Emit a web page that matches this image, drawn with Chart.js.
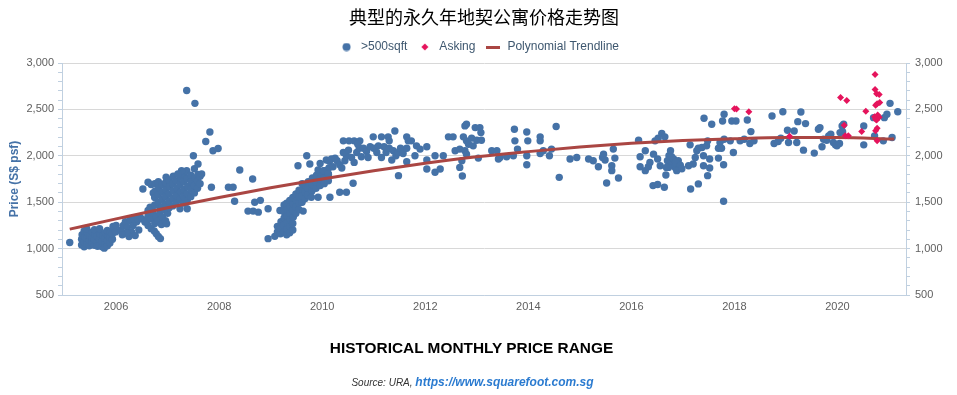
<!DOCTYPE html>
<html>
<head>
<meta charset="utf-8">
<script src="https://cdn.jsdelivr.net/npm/chart.js@4"></script>
<style>
  body { margin: 0; background: #fff; }
  #wrap { position: relative; width: 957px; height: 395px; }
  #chartTitle { position: absolute; left: 0; top: 4px; width: 968px; text-align: center;
    font: 18px "Noto Sans CJK SC", sans-serif; line-height: 24px; color: #000; }
  #xTitle { position: absolute; left: 0; top: 338px; width: 943px; text-align: center;
    font: bold 15.4px "Liberation Sans", Arial, sans-serif; line-height: 20px; color: #000; }
  #source { position: absolute; left: 0; top: 373px; width: 945px; text-align: center;
    line-height: 16px; font-family: "Liberation Sans", Arial, sans-serif; }
  #source .lbl { font-style: italic; font-size: 10px; color: #333; }
  #source .url { font-style: italic; font-weight: bold; font-size: 12px; color: #2B7BD0; }
</style>
</head>
<body>
<div id="wrap">
  <canvas id="chart" width="957" height="395"></canvas>
  <div id="chartTitle">典型的永久年地契公寓价格走势图</div>
  <div id="xTitle">HISTORICAL MONTHLY PRICE RANGE</div>
  <div id="source"><span class="lbl">Source: URA, </span><span class="url">https://www.squarefoot.com.sg</span></div>
</div>
<script>
// transactions >500sqft : [year, price psf]
var sqftPoints = [
  [2005.10,1065],
  [2005.33,1040],[2005.33,1100],[2005.34,1150],
  [2005.38,1020],[2005.38,1070],[2005.39,1130],[2005.38,1190],
  [2005.43,1050],[2005.43,1110],[2005.44,1170],[2005.43,1215],
  [2005.48,1030],[2005.48,1090],[2005.49,1140],
  [2005.53,1060],[2005.53,1120],[2005.54,1180],
  [2005.58,1035],[2005.58,1095],[2005.59,1150],[2005.58,1205],
  [2005.63,1070],[2005.63,1130],[2005.64,1025],
  [2005.68,1040],[2005.68,1100],[2005.69,1160],[2005.68,1215],
  [2005.73,1020],[2005.73,1080],[2005.74,1140],
  [2005.78,1050],[2005.78,1110],[2005.79,1170],[2005.77,1005],
  [2005.83,1030],[2005.83,1090],[2005.84,1150],[2005.83,1195],
  [2005.88,1060],[2005.88,1120],[2005.89,1180],
  [2005.93,1100],[2005.93,1160],[2005.94,1240],
  [2005.99,1180],[2006.00,1250],
  [2006.10,1197],[2006.14,1250],[2006.18,1290],[2006.22,1230],[2006.27,1304],[2006.30,1180],
  [2006.33,1250],[2006.37,1140],[2006.40,1290],[2006.44,1200],[2006.46,1340],[2006.25,1130],
  [2006.35,1320],[2006.42,1320],[2006.20,1165],[2006.12,1150],
  [2006.50,1320],[2006.56,1286],[2006.62,1250],[2006.68,1215],[2006.74,1190],[2006.78,1161],
  [2006.82,1130],[2006.86,1108],
  [2006.60,1300],[2006.62,1350],[2006.68,1320],[2006.72,1380],[2006.75,1270],[2006.78,1340],
  [2006.82,1300],[2006.85,1380],[2006.88,1260],[2006.90,1340],[2006.93,1420],[2006.96,1300],
  [2006.98,1268],[2007.00,1380],[2007.03,1440],[2006.62,1411],[2006.66,1447],[2006.70,1430],
  [2006.85,1447],
  [2006.52,1643],[2006.62,1715],[2006.68,1690],[2006.72,1600],[2006.75,1560],
  [2006.75,1470],[2006.75,1550],[2006.76,1620],[2006.75,1700],
  [2006.82,1500],[2006.82,1580],[2006.83,1660],[2006.82,1720],
  [2006.89,1450],[2006.89,1530],[2006.90,1610],[2006.89,1690],
  [2006.96,1480],[2006.96,1560],[2006.97,1640],[2006.96,1710],[2006.97,1770],
  [2007.03,1510],[2007.03,1590],[2007.04,1670],[2007.03,1740],
  [2007.10,1460],[2007.10,1540],[2007.11,1620],[2007.10,1700],[2007.11,1780],
  [2007.17,1500],[2007.17,1570],[2007.18,1650],[2007.17,1730],
  [2007.24,1430],[2007.24,1530],[2007.25,1610],[2007.24,1690],[2007.25,1770],
  [2007.31,1490],[2007.31,1560],[2007.32,1640],[2007.31,1720],[2007.32,1800],
  [2007.38,1430],[2007.38,1520],[2007.38,1590],[2007.39,1670],[2007.38,1750],[2007.37,1840],
  [2007.45,1560],[2007.45,1640],[2007.46,1720],[2007.45,1790],
  [2007.52,1600],[2007.52,1680],[2007.53,1760],[2007.52,1860],
  [2007.58,1650],[2007.58,1730],[2007.59,1800],
  [2007.63,1700],[2007.63,1780],[2007.27,1840],[2007.20,1804],
  [2007.37,2704],[2007.53,2565],[2007.74,2154],[2007.82,2257],[2007.88,2054],[2007.98,2079],
  [2007.85,1661],[2008.18,1661],[2008.27,1661],[2008.30,1511],[2008.40,1847],[2007.66,1804],
  [2007.59,1911],[2007.50,2000],
  [2008.56,1404],[2008.66,1404],[2008.76,1393],[2008.69,1500],[2008.80,1520],[2008.65,1750],
  [2008.95,1429],[2008.95,1107],[2009.08,1132],
  [2009.13,1180],[2009.13,1240],
  [2009.19,1160],[2009.19,1220],[2009.20,1290],[2009.18,1411],
  [2009.25,1180],[2009.25,1250],[2009.26,1330],[2009.25,1400],[2009.26,1470],
  [2009.31,1150],[2009.31,1210],[2009.32,1280],[2009.31,1350],[2009.32,1420],[2009.31,1490],
  [2009.37,1170],[2009.37,1240],[2009.38,1310],[2009.37,1380],[2009.38,1450],[2009.37,1520],
  [2009.43,1200],[2009.43,1270],[2009.44,1340],[2009.43,1410],[2009.44,1480],[2009.43,1550],
  [2009.49,1380],[2009.49,1450],[2009.50,1520],[2009.49,1590],
  [2009.55,1420],[2009.55,1490],[2009.56,1560],[2009.55,1630],
  [2009.61,1500],[2009.61,1570],[2009.62,1640],[2009.61,1700],
  [2009.67,1540],[2009.67,1610],[2009.68,1680],
  [2009.72,1580],[2009.72,1650],[2009.73,1720],
  [2009.80,1620],[2009.80,1690],[2009.81,1760],
  [2009.88,1650],[2009.88,1720],[2009.89,1790],
  [2009.96,1680],[2009.96,1750],[2009.97,1820],
  [2010.04,1700],[2010.04,1770],[2010.05,1840],
  [2010.12,1730],[2010.12,1800],[2010.13,1870],
  [2009.63,1404],[2009.79,1554],[2009.92,1554],[2010.15,1554],[2010.34,1607],[2010.47,1607],
  [2010.60,1704],[2009.53,1893],[2009.70,2000],[2009.76,1911],
  [2009.96,1918],[2009.92,1847],[2010.02,1840],[2010.08,1954],[2010.14,1940],[2010.18,1965],
  [2010.25,1975],[2010.29,1947],[2010.21,1882],[2010.12,1804],[2010.34,1904],[2010.38,1868],
  [2010.44,1947],[2010.47,2000],[2010.41,2036],[2010.51,2061],[2010.57,1982],[2010.62,1929],
  [2010.67,2036],[2010.72,2082],[2010.76,1990],[2010.80,2082],[2010.86,2047],[2010.89,1982],
  [2010.93,2097],[2011.00,2082],[2011.06,2036],[2011.09,2107],[2011.15,1982],[2011.20,2097],
  [2011.24,2036],[2011.30,2082],[2011.35,1954],[2011.38,2054],[2011.43,2000],[2011.48,2036],
  [2011.52,2082],[2011.57,2025],[2011.64,2082],[2011.48,1786],
  [2010.41,2161],[2010.52,2161],[2010.62,2161],[2010.73,2161],[2010.69,2125],[2010.99,2204],
  [2011.15,2204],[2011.28,2204],[2011.41,2268],[2011.30,2161],[2011.64,2204],[2011.67,2161],
  [2011.64,1936],
  [2011.73,2161],[2011.83,2107],[2011.90,2072],[2011.80,2000],[2012.03,2097],[2012.03,1954],
  [2012.03,1857],[2012.19,2000],[2012.19,1822],[2012.29,1857],[2012.35,2000],[2012.45,2204],
  [2012.54,2204],[2012.58,2054],[2012.67,2072],[2012.71,1947],[2012.67,1875],[2012.72,1782],
  [2012.77,2322],[2012.80,2340],[2012.74,2204],[2012.80,2161],[2012.84,2125],[2012.90,2190],
  [2012.77,2054],[2012.80,2018],[2012.93,2107],[2012.97,2304],[2013.06,2304],[2013.08,2250],
  [2013.00,2168],[2013.09,2168],[2013.03,1975],[2013.29,2054],[2013.39,2054],[2013.42,1965],
  [2013.45,1982],[2013.58,1990],[2013.71,2000],[2013.79,2072],[2013.73,2286],[2013.74,2161],
  [2013.97,2257],[2013.99,2161],[2013.97,2000],[2013.97,1904],[2014.23,2204],[2014.23,2161],
  [2014.23,2025],[2014.29,2054],[2014.41,2000],[2014.45,2072],[2014.54,2315],[2014.60,1768],
  [2014.81,1965],[2014.94,1982],
  [2015.17,1965],[2015.26,1947],[2015.36,1882],[2015.44,1982],[2015.46,2018],[2015.49,1954],
  [2015.52,1707],[2015.62,1893],[2015.62,1840],[2015.65,2072],[2015.68,1975],[2015.75,1761],
  [2016.14,2168],[2016.17,1990],[2016.17,1882],[2016.27,2054],[2016.27,1840],[2016.33,1882],
  [2016.36,1929],[2016.42,1679],[2016.51,1690],[2016.43,2018],[2016.51,1965],[2016.46,2161],
  [2016.52,2190],[2016.59,2240],[2016.65,2204],[2016.56,1893],[2016.64,1661],[2016.67,1793],
  [2016.70,1947],[2016.73,2000],[2016.76,2054],[2016.80,1911],[2016.82,1965],[2016.85,1875],
  [2016.88,1840],[2016.91,1947],[2016.72,1875],[2016.68,1875],[2016.78,1990],[2016.86,1925],
  [2016.95,1900],[2016.98,1860],
  [2017.14,2118],[2017.15,1643],[2017.11,1893],[2017.20,1911],[2017.24,1982],[2017.27,2054],
  [2017.30,2082],[2017.30,1697],[2017.37,2090],[2017.40,2000],[2017.40,1893],[2017.41,2404],
  [2017.46,2107],[2017.48,1786],[2017.52,1965],[2017.52,1868],[2017.48,2161],[2017.56,2340],
  [2017.69,1975],[2017.69,2082],[2017.72,2143],[2017.75,2082],[2017.79,1904],[2017.77,2375],
  [2017.80,2447],[2017.80,2179],[2017.79,1511],[2017.95,2375],[2018.03,2375],[2017.98,2036],
  [2017.92,2161],
  [2018.11,2161],[2018.19,2179],[2018.25,2386],[2018.32,2261],[2018.30,2132],[2018.38,2161],
  [2018.73,2429],[2018.77,2132],[2018.85,2154],[2018.94,2475],[2018.90,2190],[2019.05,2143],
  [2019.03,2275],[2019.16,2268],[2019.21,2143],[2019.23,2368],[2019.29,2472],[2019.34,2061],
  [2019.38,2347],
  [2019.55,2029],[2019.63,2286],[2019.66,2304],[2019.70,2097],[2019.73,2179],[2019.79,2168],
  [2019.83,2214],[2019.87,2232],[2019.92,2143],[2019.96,2118],[2019.99,2107],[2020.04,2132],
  [2020.05,2250],[2020.09,2322],[2020.12,2340],[2020.10,2260],
  [2020.51,2322],[2020.51,2118],
  [2020.70,2411],[2020.72,2215],[2020.89,2161],[2020.91,2411],[2020.96,2447],[2021.02,2565],
  [2021.06,2197],[2021.17,2475]
];

// asking prices : [year, price psf]
var askingPoints = [
  [2018.00,2507],[2018.04,2505],[2018.28,2475],[2019.07,2212],
  [2020.06,2628],[2020.18,2597],[2020.13,2330],[2020.15,2215],[2020.21,2215],
  [2020.47,2261],[2020.55,2480],
  [2020.73,2876],[2020.73,2714],[2020.76,2668],[2020.81,2661],
  [2020.74,2545],[2020.77,2560],[2020.82,2575],
  [2020.72,2420],[2020.75,2405],[2020.78,2440],[2020.81,2415],[2020.76,2385],[2020.74,2395],
  [2020.77,2296],[2020.74,2270],
  [2020.77,2161]
];

var trendPoints = [
  [2005.10,1210],[2006,1320],[2007,1440],[2008,1550],[2009,1655],[2010,1750],[2011,1840],
  [2012,1920],[2013,1990],[2014,2045],[2015,2095],[2016,2135],[2017,2165],[2018,2185],
  [2019,2197],[2020,2197],[2021.10,2180]
];

var seriesNames = ['>500sqft', 'Asking', 'Polynomial Trendline'];

function toXY(list) {
  return list.map(function (p) { return { x: p[0], y: p[1] }; });
}

// small marker images for the legend
function icon(w, h, draw) {
  var c = document.createElement('canvas');
  c.width = w; c.height = h;
  draw(c.getContext('2d'));
  return c;
}
var legendIcons = [
  icon(9, 9, function (g) { g.fillStyle = '#4572A7'; g.beginPath(); g.arc(4.5, 4.5, 4, 0, Math.PI * 2); g.fill(); }),
  icon(8, 8, function (g) { g.fillStyle = '#E5145C'; g.beginPath(); g.moveTo(4, 0.5); g.lineTo(7.5, 4); g.lineTo(4, 7.5); g.lineTo(0.5, 4); g.closePath(); g.fill(); }),
  icon(14, 3, function (g) { g.fillStyle = '#AA4643'; g.fillRect(0, 0, 14, 3); })
];

Chart.defaults.font.family = '"Liberation Sans", Arial, sans-serif';

function isMajor(ctx) { return ctx.tick && ctx.tick.value % 500 === 0; }

var yTicks = {
  stepSize: 100,
  autoSkip: false,
  color: '#606060',
  font: { size: 11 },
  callback: function (v) { return v % 500 === 0 ? v.toLocaleString('en-US') : ''; }
};

new Chart(document.getElementById('chart'), {
  type: 'scatter',
  data: {
    datasets: [{
      label: seriesNames[0],
      data: toXY(sqftPoints),
      backgroundColor: '#4572A7',
      borderWidth: 0,
      pointRadius: 3.7,
      pointHoverRadius: 3.7,
      order: 3
    }, {
      label: seriesNames[1],
      data: toXY(askingPoints),
      backgroundColor: '#E5145C',
      borderWidth: 0,
      pointStyle: 'rectRot',
      pointRadius: 3.5,
      pointHoverRadius: 3.5,
      order: 1
    }, {
      label: seriesNames[2],
      type: 'line',
      data: toXY(trendPoints),
      borderColor: '#AA4643',
      backgroundColor: '#AA4643',
      borderWidth: 3,
      pointRadius: 0,
      cubicInterpolationMode: 'monotone',
      fill: false,
      order: 2
    }]
  },
  options: {
    responsive: false,
    animation: false,
    layout: { padding: { top: 32 } },
    plugins: {
      tooltip: { enabled: false },
      legend: {
        labels: {
          color: '#3E576F',
          font: { size: 12 },
          usePointStyle: true,
          pointStyleWidth: 17,
          boxHeight: 12,
          padding: 9,
          sort: function (a, b) { return a.datasetIndex - b.datasetIndex; },
          generateLabels: function (chart) {
            var items = Chart.defaults.plugins.legend.labels.generateLabels(chart);
            items.forEach(function (it) { it.pointStyle = legendIcons[it.datasetIndex]; it.lineWidth = 0; });
            return items;
          }
        }
      }
    },
    scales: {
      x: {
        type: 'linear',
        min: 2004.95,
        max: 2021.33,
        afterFit: function (s) { s.height = 100; },
        grid: { color: 'rgba(0,0,0,0)', drawTicks: false },
        border: { color: '#C0D0E0' },
        ticks: {
          stepSize: 2,
          includeBounds: false,
          maxRotation: 0,
          padding: 5,
          color: '#606060',
          font: { size: 11 },
          callback: function (v) { return String(v); }
        }
      },
      y: {
        position: 'left',
        min: 500,
        max: 3000,
        afterFit: function (s) { s.width = 62; },
        grid: {
          color: function (ctx) { return isMajor(ctx) ? '#D8D8D8' : 'rgba(0,0,0,0)'; },
          tickColor: '#C0D0E0',
          tickLength: 4
        },
        border: { color: '#C0D0E0' },
        ticks: Object.assign({ padding: 4 }, yTicks),
        title: {
          display: true,
          text: 'Price (S$ psf)',
          color: '#4572A7',
          font: { size: 12, weight: 'bold' },
          padding: { top: 7, bottom: 0 }
        }
      },
      y2: {
        position: 'right',
        min: 500,
        max: 3000,
        afterFit: function (s) { s.width = 51; },
        grid: { drawOnChartArea: false, tickColor: '#C0D0E0', tickLength: 4 },
        border: { color: '#C0D0E0' },
        ticks: Object.assign({ padding: 5 }, yTicks)
      }
    }
  }
});
</script>
</body>
</html>
